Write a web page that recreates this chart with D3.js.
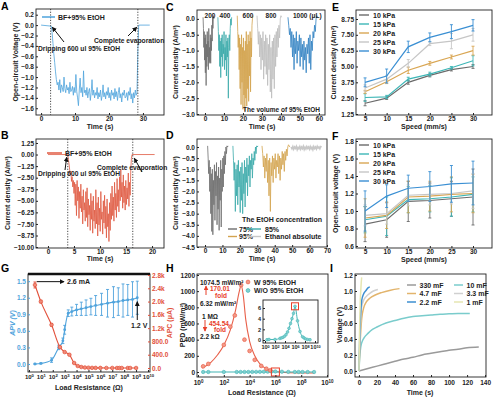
<!DOCTYPE html>
<meta charset="utf-8">
<script src="https://cdn.jsdelivr.net/npm/d3@7"></script>
<style>
body { margin: 0; background: #fff; }
text { font-family: "Liberation Sans", Arial, sans-serif; font-weight: bold; }
</style>
<body>
<script>

// ---------- data ----------

// A : open-circuit voltage, BF + 95% EtOH
var aStart = [0, 0], aEnd = [32, 0];
var aT0 = 3.0, aDt = 0.25;
var aVolt = [-0.02, -0.15, -0.35, -0.55, -0.72, -0.9, -1.05, -1.15, -1.1, -1.25, -1.05, -1.3,
  -1.15, -1.2, -1.28, -1.0, -1.22, -1.3, -1.15, -1.25, -1.2, -1.32, -1.1, -1.28,
  -1.25, -1.18, -1.35, -1.2, -1.3, -0.95, -1.28, -1.4, -1.55, -1.25, -1.02, -1.3,
  -1.2, -1.38, -0.88, -1.3, -1.25, -1.35, -1.2, -1.4, -1.28, -1.22, -1.45, -1.3,
  -1.05, -1.35, -1.25, -1.4, -1.3, -1.35, -1.2, -1.42, -1.3, -1.38, -1.25, -1.45,
  -1.35, -1.15, -1.38, -1.3, -1.42, -1.28, -1.35, -1.2, -1.4, -1.3, -1.45, -1.25,
  -1.35, -1.3, -1.42, -1.22, -1.38, -1.28, -1.45, -1.3, -1.2, -1.4, -1.32, -1.48,
  -1.3, -1.35, -1.25, -1.4, -1.38, -1.3, -1.45, -1.28, -1.35, -1.2, -1.42, -1.32,
  -1.5, -1.3, -1.4, -1.25, -1.35, -1.3, -0.5, 0];
var aMarks = [2.8, 28.5];

// B : current density, BF + 95% EtOH
var bStart = [0, 0], bEnd = [20.5, 0];
var bT0 = 3.8, bDt = 0.12;
var bCur = [0, -0.5, -1.0, -1.6, -2.2, -1.8, -2.9, -2.4, -3.5, -2.8,
  -4.2, -3.0, -5.5, -3.2, -6.6, -2.8, -5.0, -3.5, -6.9, -4.0,
  -5.8, -3.2, -6.2, -4.5, -7.5, -3.8, -6.0, -5.2, -7.2, -4.0,
  -6.8, -3.6, -7.8, -4.8, -6.5, -5.5, -8.2, -4.2, -7.0, -5.0,
  -8.5, -4.5, -7.2, -6.0, -8.0, -3.8, -7.5, -5.2, -8.8, -4.6,
  -7.6, -5.8, -8.3, -4.0, -7.0, -6.2, -8.6, -5.0, -7.4, -4.4,
  -8.0, -5.6, -9.0, -4.8, -7.8, -6.4, -9.4, -5.2, -8.2, -4.2,
  -7.0, -3.4, -6.6, -4.6, -7.2, -3.0, -6.0, -4.2, -6.8, -2.6,
  -5.6, -3.8, -6.2, -2.4, -5.0, -1.6, -4.6, -3.0, -5.8, -2.2,
  -5.2, -3.4, -6.0, -2.8, -5.4, -3.6, -4.8, -2.0, -5.6, -3.0,
  -4.4, -1.5, -0.4, 0];
var bMarks = [3.8, 16.3];

// C : volume of 95% EtOH
var cNames = ["200", "400", "600", "800", "1000 (\u03bcL)"];
var cColors = ["#6e6e6e", "#3aa9a9", "#d3a34e", "#bdbdbd", "#2f80c2"];
var cT0 = [-1.0, 6.8, 17.0, 27.4, 43.7];
var cDt = [0.2, 0.25, 0.25, 0.35, 0.4];
var c200 = [0.05, -0.3, -0.9, -0.4, -1.3, -0.6, -1.7, -0.5, -2.1, -0.8, -1.5, -0.4, -1.2, -0.7, -1.6,
  -0.3, -1.4, -0.9, -1.35, -0.5, -1.4, -0.6, -1.0, -0.2, -0.7, 0.05, -0.3, 0.1, 0.0, 0.05];
var c400 = [0.05, -0.4, -1.0, -0.5, -1.5, -0.7, -1.85, -0.6, -1.2, -0.5, -1.5, -0.8, -1.1, -0.4, -1.6,
  -0.9, -1.3, -0.5, -1.8, -0.7, -1.2, -0.6, -2.5, -0.9, -0.5, -1.0, -0.3, 0.0, -0.2, 0.05];
var c600 = [0.1, -0.4, -0.9, -0.5, -1.6, -0.6, -2.2, -0.8, -2.7, -0.5, -2.0, -0.9, -2.85, -0.6, -2.4,
  -1.0, -2.9, -0.7, -2.5, -0.4, -2.75, -0.8, -2.2, -0.5, -2.6, -0.7, -1.8, -0.4, -2.3, -0.6,
  -1.2, -0.2, 0.0, 0.1];
var c800 = [0.1, -0.3, -0.8, -0.4, -1.2, -0.5, -1.6, -0.6, -1.3, -0.4, -1.9, -0.7, -1.5, -0.5, -1.75,
  -0.6, -2.1, -0.8, -1.6, -0.5, -2.3, -0.9, -2.5, -0.7, -1.9, -0.6, -2.2, -0.5, -1.5, -0.4,
  -1.2, -0.3, -0.9, -0.2, -0.6, 0.0, 0.1, 0.05];
var c1000 = [0.05, -0.2, -0.5, -0.3, -0.9, -0.4, -1.2, -0.5, -1.6, -0.6, -1.1, -0.4, -1.4, -0.7, -1.0,
  -0.5, -1.5, -0.6, -1.2, -0.8, -1.6, -0.7, -1.3, -0.9, -1.7, -0.8, -1.1, -0.6, -1.4, -0.5,
  -1.6, -0.7, -1.0, -0.4, -0.6, -0.2, -0.4, 0.0, 0.1, 0.05];

// D : EtOH concentration
var dNames = ["75%", "85%", "95%", "Ethanol absolute"];
var dColors = ["#6e6e6e", "#3aa9a9", "#d3a34e", "#c8c8c8"];
var dT0 = [1.5, 16.0, 32.7, 49.4];
var dDt = [0.3, 0.35, 0.4, 0.5];
var d75 = [0.05, -0.5, -1.2, -0.6, -2.0, -0.9, -3.0, -1.2, -3.8, -1.0, -3.95, -1.5, -2.6, -0.8, -3.3,
  -1.1, -2.2, -0.7, -3.5, -1.3, -2.8, -0.9, -3.75, -1.4, -2.4, -0.6, -3.6, -1.0, -2.0, -0.5,
  -1.8, -0.4, -1.2, -0.2, -0.8, 0.0, -0.3, 0.05, 0.0, 0.05];
var d85 = [0.05, -0.6, -1.5, -0.7, -2.9, -1.0, -2.2, -0.8, -2.6, -0.6, -1.8, -1.1, -2.95, -0.9, -2.4,
  -0.7, -3.0, -1.2, -2.1, -0.6, -2.7, -0.9, -1.6, -0.5, -2.2, -0.8, -1.3, -0.4, -1.8, -0.6,
  -1.0, -0.3, -1.4, -0.5, -0.8, -0.2, -0.6, 0.0, -0.3, 0.05, 0.0, 0.05];
var d95 = [0.05, -0.3, -0.9, -0.4, -1.4, -0.5, -1.1, -0.3, -1.6, -0.6, -2.2, -0.5, -2.9, -0.7, -1.3,
  -0.4, -1.6, -0.5, -1.0, -0.3, -1.4, -0.6, -0.9, -0.3, -1.2, -0.4, -1.5, -0.5, -1.0, -0.2,
  -0.8, -0.3, -1.1, -0.2, -0.6, -0.1, -0.4, 0.0, 0.1, 0.05, 0.0];
var dAbs = [0.0, -0.08, 0.02, -0.1, 0.0, -0.06, 0.03, -0.12, -0.02, -0.08, 0.02, -0.1, 0.0, -0.07, 0.03,
  -0.11, -0.01, -0.09, 0.02, -0.06, 0.0, -0.1, 0.02, -0.08, -0.01, -0.12, 0.02, -0.07, 0.0, -0.09,
  0.03, -0.05, 0.0, -0.08, 0.02, 0.0];

// E, F : pressure series vs speed
var speeds = [5, 10, 15, 20, 25, 30];
var pressures = ["10 kPa", "15 kPa", "20 kPa", "25 kPa", "30 kPa"];
var pColors = ["#6b6b6b", "#3db6b6", "#d9a653", "#c6c6c6", "#3a8fd3"];
var eMean = [[2.1, 2.5, 3.75, 4.3, 4.75, 5.0],
             [2.55, 2.6, 4.0, 4.4, 4.9, 5.45],
             [3.0, 3.8, 4.7, 5.25, 5.75, 6.25],
             [3.3, 4.0, 5.25, 6.8, 7.0, 7.5],
             [3.75, 4.25, 6.55, 7.3, 7.75, 8.25]];
var eErr = [[0.2, 0.1, 0.15, 0.12, 0.1, 0.15],
            [0.3, 0.12, 0.15, 0.15, 0.1, 0.4],
            [0.12, 0.15, 0.25, 0.15, 0.15, 0.35],
            [0.25, 0.3, 0.3, 0.15, 0.6, 0.5],
            [0.35, 0.55, 0.45, 0.35, 0.55, 0.45]];
var fMean = [[0.85, 0.9, 1.11, 1.12, 1.14, 1.16],
             [0.9, 0.94, 1.13, 1.14, 1.16, 1.19],
             [0.92, 0.95, 1.16, 1.17, 1.19, 1.2],
             [0.95, 0.97, 1.18, 1.19, 1.2, 1.23],
             [1.0, 1.17, 1.26, 1.28, 1.31, 1.32]];
var fErr = [[0.2, 0.2, 0.23, 0.2, 0.2, 0.32],
            [0.15, 0.22, 0.15, 0.15, 0.22, 0.2],
            [0.22, 0.15, 0.18, 0.17, 0.2, 0.22],
            [0.12, 0.12, 0.12, 0.12, 0.12, 0.2],
            [0.23, 0.13, 0.15, 0.17, 0.21, 0.25]];

// G : APV / APC vs load resistance
var gvR = [3.2, 10, 79, 320, 710, 1000, 2000, 4000, 1e4, 2.5e4, 6.3e4, 1.6e5, 4e5, 1.26e6, 4e6,
  1.26e7, 3.2e7, 8e7, 2e8, 5e8, 1.26e9];
var gvV = [0.0, 0.01, 0.07, 0.3, 0.42, 0.62, 0.92, 0.95, 0.98, 1.0, 1.02, 1.04, 1.06, 1.08, 1.1,
  1.12, 1.13, 1.15, 1.16, 1.17, 1.2];
var gvErr = [0.01, 0.01, 0.04, 0.04, 0.05, 0.08, 0.06, 0.08, 0.1, 0.12, 0.14, 0.15, 0.18, 0.2, 0.25,
  0.28, 0.25, 0.3, 0.28, 0.32, 0.3];
var gcR = [3.2, 10, 79, 400, 1000, 2500, 6300, 1.26e4, 2.5e4, 5e4, 1e5, 2e5, 4e5, 1e6, 3.2e6,
  1e7, 2.5e7, 4e7, 6.3e7, 2e8, 3.2e8, 1e9];
var gcI = [2500, 2000, 1300, 630, 480, 400, 150, 60, 30, 15, 10, 5, 4, 3, 2, 2, 1, 1, 1, 1, 1, 1];
var gcErr = [90, 40, 40, 20, 15, 10, 10, 5, 5, 5, 5, 5, 5, 5, 5, 5, 5, 5, 5, 5, 5, 5];

// H : peak power density
var hwR = [2.5, 6.3, 100, 320, 710, 2200, 4000, 1e4, 2.5e4, 8e4, 2e5, 4e5];
var hwP = [70, 100, 335, 560, 700, 1074.5, 400, 260, 150, 75, 40, 20];
var hFitR = [2, 10, 32, 100, 320, 800, 1600, 2200, 3200, 5000, 1e4, 2.5e4, 6.3e4, 2e5, 1e6, 1e7, 1e8, 1e9];
var hFitP = [50, 120, 210, 330, 520, 760, 1000, 1075, 950, 650, 380, 200, 100, 40, 5, -10, -12, -12];
var hoR = [2.5, 6.3, 100, 1000, 2000, 4000, 8000, 1.6e4, 3.2e4, 6.3e4, 1.26e5, 2.5e5, 5e5, 1e6, 3.2e6,
  1e7, 3.2e7, 6.3e7, 1.26e8, 3.2e8, 1e9];
var hoP = [0.05, 0.1, 0.1, 0.3, 0.4, 0.5, 0.7, 1.0, 1.5, 2.2, 3.1, 4.0, 5.0, 6.32, 3.6,
  1.6, 0.6, 0.4, 0.2, 0.1, 0.05];
var hPeakR = 1e6;

// I : charging curves
var iNames = ["330 mF", "4.7 mF", "2.2 mF", "10 mF", "3.3 mF", "1 mF"];
var iColors = ["#9a9a9a", "#e2b46c", "#3d8fd1", "#7acccc", "#d0d0d0", "#e6e6b2"];
var iT330 = [0, 10, 20, 30, 40, 50, 60, 70, 80, 90, 100, 110, 120, 133];
var iV330 = [0, 0.03, 0.06, 0.09, 0.12, 0.15, 0.17, 0.2, 0.22, 0.24, 0.26, 0.27, 0.29, 0.3];
var iT47 = [0, 1, 2, 3, 5, 8, 12, 18, 25, 35, 45];
var iV47 = [0, 0.3, 0.5, 0.65, 0.78, 0.86, 0.91, 0.95, 0.98, 1.01, 1.03];
var iT22 = [0, 1, 2, 3, 5, 8, 10, 12];
var iV22 = [0, 0.5, 0.75, 0.88, 0.96, 1.01, 1.04, 1.05];
var iT10 = [0, 1, 2, 4, 6, 10, 15, 20, 30, 40, 50, 60, 70, 80, 90, 100, 110, 123];
var iV10 = [0, 0.2, 0.3, 0.38, 0.42, 0.47, 0.52, 0.55, 0.6, 0.63, 0.66, 0.68, 0.69, 0.7, 0.71, 0.715, 0.72, 0.72];
var iT33 = [0, 1, 2, 3, 5, 8, 12, 16, 21];
var iV33 = [0, 0.4, 0.65, 0.8, 0.88, 0.93, 0.97, 1.0, 1.02];
var iT1 = [0, 0.5, 1, 1.5, 2, 2.5, 3];
var iV1 = [0, 0.4, 0.7, 0.9, 1.0, 1.1, 1.17];

// ---------- drawing ----------

var INK = "#222";
var svg = d3.select("body").append("svg")
    .attr("width", 500)
    .attr("height", 398);

var defs = svg.append("defs");
function arrowHead(id, color) {
  defs.append("marker").attr("id", id)
      .attr("viewBox", "0 0 8 8").attr("refX", 7).attr("refY", 4)
      .attr("markerWidth", 5).attr("markerHeight", 5).attr("orient", "auto")
    .append("path").attr("d", "M0,0L8,4L0,8z").attr("fill", color);
}
arrowHead("arrK", "#111");
arrowHead("arrR", "#e8402a");

function frame(x0, y0, x1, y1) {
  svg.append("rect").attr("x", x0).attr("y", y0)
    .attr("width", x1 - x0).attr("height", y1 - y0)
    .attr("fill", "none").attr("stroke", INK).attr("stroke-width", 0.9);
}

function styleAxis(g, color, size) {
  g.select(".domain").remove();
  g.selectAll(".tick line").attr("stroke", color || INK);
  g.selectAll(".tick text").attr("font-size", size || 6.5).attr("fill", color || INK);
  return g;
}
// ticks point inward, labels sit right against the frame
function bottomAxis(scale, y, ticks, fmt, size, pad) {
  var g = svg.append("g").attr("transform", "translate(0," + y + ")")
    .call(d3.axisBottom(scale).tickValues(ticks).tickFormat(fmt || null).tickSize(-2).tickPadding(pad || 1.5));
  return styleAxis(g, INK, size);
}
function leftAxis(scale, x, ticks, fmt, color, size) {
  var g = svg.append("g").attr("transform", "translate(" + x + ",0)")
    .call(d3.axisLeft(scale).tickValues(ticks).tickFormat(fmt || null).tickSize(-2).tickPadding(2));
  return styleAxis(g, color, size);
}
function rightAxis(scale, x, ticks, fmt, color) {
  var g = svg.append("g").attr("transform", "translate(" + x + ",0)")
    .call(d3.axisRight(scale).tickValues(ticks).tickFormat(fmt || null).tickSize(-2).tickPadding(2));
  return styleAxis(g, color);
}
// 10^n labels
function powTicks(g, small) {
  g.selectAll(".tick text").each(function(d) {
    var t = d3.select(this).text(null);
    t.append("tspan").text("10");
    t.append("tspan").attr("dy", "-0.45em").attr("font-size", small).text(Math.round(Math.log10(d)));
  });
}

function text(x, y, str, size, color, anchor) {
  return svg.append("text").attr("x", x).attr("y", y)
    .attr("font-size", size || 7).attr("fill", color || INK)
    .attr("text-anchor", anchor || "start").text(str);
}
function ytitle(x, y, str, color) {
  return svg.append("text").attr("transform", "translate(" + x + "," + y + ") rotate(-90)")
    .attr("text-anchor", "middle").attr("font-size", 7).attr("fill", color || INK).text(str);
}
function xtitle(x, y, str) {
  return text(x, y, str, 7, INK, "middle");
}
function letter(x, y, s) { return text(x, y, s, 10.5, "#000"); }

function series(t0, dt, vals) {
  return vals.map(function(v, i) { return [t0 + i * dt, v]; });
}
function errBars(g, xs, ys, es, x, y, color, cap) {
  xs.forEach(function(xv, i) {
    var px = x(xv), lo = y(ys[i] - es[i]), hi = y(ys[i] + es[i]);
    g.append("line").attr("x1", px).attr("x2", px).attr("y1", lo).attr("y2", hi)
      .attr("stroke", color).attr("stroke-width", 0.9);
    [lo, hi].forEach(function(py) {
      g.append("line").attr("x1", px - cap).attr("x2", px + cap).attr("y1", py).attr("y2", py)
        .attr("stroke", color).attr("stroke-width", 0.9);
    });
  });
}

// ===== A =====
var xA = d3.scaleLinear().domain([-1.5, 36.2]).range([36, 164]);
var yA = d3.scaleLinear().domain([-1.73, 0.31]).range([115, 9]);
var lineA = d3.line().x(function(d) { return xA(d[0]); }).y(function(d) { return yA(d[1]); });
var aPts = [aStart].concat(series(aT0, aDt, aVolt), [aEnd]);
svg.append("path").datum(aPts).attr("d", lineA).attr("fill", "none")
  .attr("stroke", "#4ea3dc").attr("stroke-width", 0.8);
aMarks.forEach(function(t) {
  svg.append("line").attr("x1", xA(t)).attr("x2", xA(t)).attr("y1", 9).attr("y2", 115)
    .attr("stroke", "#333").attr("stroke-width", 0.9).attr("stroke-dasharray", "1.2,1.5");
});
frame(36, 9, 164, 115);
bottomAxis(xA, 115, [0, 10, 20, 30]);
leftAxis(yA, 36, [0.2, 0, -0.2, -0.4, -0.6, -0.8, -1.0, -1.2, -1.4, -1.6], d3.format(".1f"));
svg.append("line").attr("x1", 42).attr("x2", 55).attr("y1", 17).attr("y2", 17)
  .attr("stroke", "#4ea3dc").attr("stroke-width", 1.5);
text(58, 19.5, "BF+95% EtOH", 7);
text(38, 50.5, "Dripping 600 ul 95% EtOH", 6.7);
text(94, 42.5, "Complete evaporation", 6.7);
svg.append("line").attr("x1", 64).attr("y1", 42).attr("x2", xA(3.3)).attr("y2", yA(-0.04))
  .attr("stroke", "#111").attr("stroke-width", 1).attr("marker-end", "url(#arrK)");
svg.append("line").attr("x1", 128).attr("y1", 36).attr("x2", xA(28.2)).attr("y2", yA(-0.04))
  .attr("stroke", "#111").attr("stroke-width", 1).attr("marker-end", "url(#arrK)");
ytitle(17.5, 62, "Open-circuit Voltage (V)");
xtitle(100, 128.5, "Time (s)");
letter(1, 10, "A");

// ===== B =====
var xB = d3.scaleLinear().domain([-2.3, 22.3]).range([36, 164]);
var yB = d3.scaleLinear().domain([-10.1, 1.68]).range([248, 139]);
var lineB = d3.line().x(function(d) { return xB(d[0]); }).y(function(d) { return yB(d[1]); });
var bPts = [bStart].concat(series(bT0, bDt, bCur), [bEnd]);
svg.append("path").datum(bPts).attr("d", lineB).attr("fill", "none")
  .attr("stroke", "#e05a42").attr("stroke-width", 0.8);
bMarks.forEach(function(t) {
  svg.append("line").attr("x1", xB(t)).attr("x2", xB(t)).attr("y1", 139).attr("y2", 248)
    .attr("stroke", "#333").attr("stroke-width", 0.9).attr("stroke-dasharray", "1.2,1.5");
});
frame(36, 139, 164, 248);
bottomAxis(xB, 248, [0, 5, 10, 15, 20]);
leftAxis(yB, 36, [1.25, 0, -1.25, -2.5, -3.75, -5, -6.25, -7.5, -8.75, -10], d3.format(".2f"));
svg.append("line").attr("x1", 47).attr("x2", 62).attr("y1", 153).attr("y2", 153)
  .attr("stroke", "#e05a42").attr("stroke-width", 1.5);
text(65, 155.5, "BF+95% EtOH", 7);
text(38, 175.5, "Dripping 600 ul 95% EtOH", 6.7);
text(97, 169.5, "Complete evaporation", 6.7);
svg.append("line").attr("x1", 65).attr("y1", 170).attr("x2", xB(3.6)).attr("y2", yB(-0.3))
  .attr("stroke", "#111").attr("stroke-width", 1).attr("marker-end", "url(#arrK)");
svg.append("line").attr("x1", 142).attr("y1", 172).attr("x2", xB(16.6)).attr("y2", yB(-0.4))
  .attr("stroke", "#111").attr("stroke-width", 1).attr("marker-end", "url(#arrK)");
ytitle(10, 193, "Current density (A/m\u00b2)");
xtitle(100, 261, "Time (s)");
letter(1, 139, "B");

// ===== C =====
var xC = d3.scaleLinear().domain([-4.2, 63.2]).range([197, 325]);
var yC = d3.scaleLinear().domain([-3.03, 0.28]).range([115, 10]);
var lineC = d3.line().x(function(d) { return xC(d[0]); }).y(function(d) { return yC(d[1]); });
[c200, c400, c600, c800, c1000].forEach(function(vals, i) {
  svg.append("path").datum(series(cT0[i], cDt[i], vals)).attr("d", lineC).attr("fill", "none")
    .attr("stroke", cColors[i]).attr("stroke-width", 0.8);
});
frame(197, 10, 325, 115);
bottomAxis(xC, 115, [0, 10, 20, 30, 40, 50, 60]);
leftAxis(yC, 197, [0, -0.5, -1, -1.5, -2, -2.5, -3], d3.format(".1f"));
[210, 225, 248, 271].forEach(function(px, i) { text(px, 17.5, cNames[i], 6.5, INK, "middle"); });
text(293, 17.5, cNames[4], 6.5);
text(320, 112, "The volume of 95% EtOH", 6.5, INK, "end");
ytitle(178, 62, "Current density (A/m\u00b2)");
xtitle(262, 129, "Time (s)");
letter(166, 11, "C");

// ===== D =====
var xD = d3.scaleLinear().domain([-4.6, 70]).range([197, 327]);
var yD = d3.scaleLinear().domain([-4.5, 0.36]).range([247, 139]);
var lineD = d3.line().x(function(d) { return xD(d[0]); }).y(function(d) { return yD(d[1]); });
[d75, d85, d95, dAbs].forEach(function(vals, i) {
  svg.append("path").datum(series(dT0[i], dDt[i], vals)).attr("d", lineD).attr("fill", "none")
    .attr("stroke", dColors[i]).attr("stroke-width", i == 3 ? 1.6 : 0.8);
});
frame(197, 139, 327, 247);
bottomAxis(xD, 247, [0, 10, 20, 30, 40, 50, 60, 70]);
leftAxis(yD, 197, [0, -0.5, -1, -1.5, -2, -2.5, -3, -3.5, -4, -4.5], d3.format(".1f"));
text(322, 221.5, "The EtOH concentration", 7, INK, "end");
[[228, 229], [246, 229], [228, 236.5], [246, 236.5]].forEach(function(p, i) {
  svg.append("line").attr("x1", p[0]).attr("x2", p[0] + (i % 2 ? 15 : 9)).attr("y1", p[1]).attr("y2", p[1])
    .attr("stroke", dColors[i]).attr("stroke-width", 1.4);
  text(p[0] + (i % 2 ? 19 : 11), p[1] + 2.5, dNames[i], 7);
});
ytitle(178, 193, "Current density (A/m\u00b2)");
xtitle(262, 260.5, "Time (s)");
letter(166, 139, "D");

// ===== E / F =====
function speedPanel(top, bottom, yDom, ticks, fmt, means, errs, legendY, title, tY, lab) {
  var x = d3.scaleLinear().domain([2.9, 34.4]).range([356, 492]);
  var y = d3.scaleLinear().domain(yDom).range([bottom, top]);
  var line = d3.line().x(function(d, i) { return x(speeds[i]); }).y(function(d) { return y(d); });
  var g = svg.append("g");
  means.forEach(function(m, k) {
    errBars(g, speeds, m, errs[k], x, y, pColors[k], 1.5);
    g.append("path").datum(m).attr("d", line).attr("fill", "none")
      .attr("stroke", pColors[k]).attr("stroke-width", 1.2);
  });
  frame(356, top, 492, bottom);
  bottomAxis(x, bottom, speeds);
  leftAxis(y, 356, ticks, fmt);
  pressures.forEach(function(p, k) {
    svg.append("line").attr("x1", 359).attr("x2", 369).attr("y1", legendY + k * 9).attr("y2", legendY + k * 9)
      .attr("stroke", pColors[k]).attr("stroke-width", 1.4);
    text(373, legendY + k * 9 + 2.5, p, 7);
  });
  ytitle(tY, (top + bottom) / 2, title);
  xtitle(424, bottom + 13.5, "Speed (mm/s)");
  letter(332, top + 1, lab);
}
speedPanel(10, 115, [1.17, 9.46], [1.25, 2.5, 3.75, 5, 6.25, 7.5, 8.75], d3.format(".2f"),
  eMean, eErr, 15, "Current density (A/m\u00b2)", 336, "E");
speedPanel(139, 248, [0.577, 1.823], [0.6, 0.8, 1.0, 1.2, 1.4, 1.6, 1.8], d3.format(".1f"),
  fMean, fErr, 145, "Open-circuit voltage (V)", 338, "F");

// ===== G =====
var gBlue = "#4fa3dc", gRed = "#e2503a";
var xG = d3.scaleLog().domain([0.832, 1.479e10]).range([28, 150]);
var yGv = d3.scaleLinear().domain([-0.145, 1.63]).range([372, 274]);
var yGc = d3.scaleLinear().domain([-120, 2830]).range([372, 274]);
var gG = svg.append("g");
errBars(gG, gvR, gvV, gvErr, xG, yGv, gBlue, 1.5);
gG.append("path").datum(gvR).attr("fill", "none").attr("stroke", gBlue).attr("stroke-width", 1.1)
  .attr("d", d3.line().curve(d3.curveMonotoneX)
    .x(function(d) { return xG(d); }).y(function(d, i) { return yGv(gvV[i]); }));
gG.selectAll(".gv").data(gvR).enter().append("circle")
  .attr("cx", function(d) { return xG(d); }).attr("cy", function(d, i) { return yGv(gvV[i]); })
  .attr("r", 1.4).attr("fill", gBlue);
errBars(gG, gcR, gcI, gcErr, xG, yGc, gRed, 1.5);
gG.append("path").datum(gcR).attr("fill", "none").attr("stroke", gRed).attr("stroke-width", 1.1)
  .attr("d", d3.line().curve(d3.curveMonotoneX)
    .x(function(d) { return xG(d); }).y(function(d, i) { return yGc(gcI[i]); }));
gG.selectAll(".gc").data(gcR).enter().append("circle")
  .attr("cx", function(d) { return xG(d); }).attr("cy", function(d, i) { return yGc(gcI[i]); })
  .attr("r", 1.8).attr("fill", "#f08a78").attr("stroke", gRed).attr("stroke-width", 0.7);
frame(28, 274, 150, 372);
svg.append("line").attr("x1", 28).attr("x2", 150).attr("y1", 274).attr("y2", 274)
  .attr("stroke", "#111").attr("stroke-width", 2.6);
powTicks(bottomAxis(xG, 372, [1, 10, 100, 1e3, 1e4, 1e5, 1e6, 1e7, 1e8, 1e9, 1e10], null, 6, 3), "4.2px");
leftAxis(yGv, 28, [0, 0.3, 0.6, 0.9, 1.2, 1.5], d3.format(".1f"), gBlue);
rightAxis(yGc, 150, [0, 400, 800, 1200, 1600, 2000, 2400, 2800],
  function(d) { return d >= 1000 ? (d / 1000).toFixed(1) + "k" : d.toFixed(1); }, gRed);
ytitle(15, 323, "APV (V)", gBlue).attr("font-style", "italic");
ytitle(172, 323, "APC (\u03bcA)", gRed);
svg.append("line").attr("x1", xG(4.5)).attr("y1", yGc(2600)).attr("x2", 64).attr("y2", yGc(2600))
  .attr("stroke", "#111").attr("stroke-width", 1).attr("marker-end", "url(#arrK)");
text(67, yGc(2600) + 2.5, "2.6 mA", 7);
svg.append("line").attr("x1", xG(1.26e9)).attr("y1", 320).attr("x2", xG(1.26e9)).attr("y2", yGv(1.2) + 4)
  .attr("stroke", "#111").attr("stroke-width", 1).attr("marker-end", "url(#arrK)");
text(131, 327.5, "1.2 V", 7);
xtitle(89, 389.5, "Load Resistance (\u03a9)");
letter(1, 272, "G");

// ===== H =====
var hRed = "#e8604a", hTeal = "#45b5b5";
var xH = d3.scaleLog().domain([0.832, 1.2e10]).range([197, 328]);
var yH = d3.scaleLinear().domain([-62, 1212]).range([377, 274]);
var gH = svg.append("g");
gH.append("path").datum(hFitR).attr("fill", "none").attr("stroke", hRed).attr("stroke-width", 1.1)
  .attr("d", d3.line().curve(d3.curveMonotoneX)
    .x(function(d) { return xH(d); }).y(function(d, i) { return yH(hFitP[i]); }));
gH.append("path").datum(hoR).attr("fill", "none").attr("stroke", hTeal).attr("stroke-width", 1.1)
  .attr("d", d3.line().x(function(d) { return xH(d); }).y(function(d, i) { return yH(0); }));
gH.selectAll(".ho").data(hoR).enter().append("circle")
  .attr("cx", function(d) { return xH(d); }).attr("cy", function(d, i) { return yH(hoP[i]); })
  .attr("r", 1.7).attr("fill", "#7fd0d0").attr("stroke", hTeal).attr("stroke-width", 0.6);
gH.selectAll(".hw").data(hwR).enter().append("circle")
  .attr("cx", function(d) { return xH(d); }).attr("cy", function(d, i) { return yH(hwP[i]); })
  .attr("r", 1.9).attr("fill", "#f49a88").attr("stroke", hRed).attr("stroke-width", 0.7);
gH.append("rect").attr("x", xH(hPeakR) - 4).attr("y", yH(0) - 4).attr("width", 8).attr("height", 8)
  .attr("fill", "none").attr("stroke", "#e8402a").attr("stroke-width", 1);
frame(197, 274, 328, 377);
powTicks(bottomAxis(xH, 377, [1, 100, 1e4, 1e6, 1e8, 1e10], null, 6.5, 3), "4.5px");
leftAxis(yH, 197, [0, 200, 400, 600, 800, 1000, 1200], d3.format("d"));
ytitle(185, 325, "PPD (mW/m\u00b2)");
xtitle(262, 395, "Load Resistance (\u03a9)");
letter(166, 272, "H");
// legend
svg.append("circle").attr("cx", 248).attr("cy", 282).attr("r", 1.9)
  .attr("fill", "#f49a88").attr("stroke", hRed).attr("stroke-width", 0.7);
text(254, 284.5, "W 95% EtOH", 7);
svg.append("circle").attr("cx", 248).attr("cy", 290.5).attr("r", 1.9)
  .attr("fill", "#7fd0d0").attr("stroke", hTeal).attr("stroke-width", 0.7);
text(254, 293, "W/O 95% EtOH", 7);
// fold notes
text(200, 284.5, "1074.5 mW/m\u00b2", 6.5);
svg.append("line").attr("x1", 206).attr("x2", 206).attr("y1", 295).attr("y2", 286)
  .attr("stroke", "#e8402a").attr("stroke-width", 1).attr("marker-end", "url(#arrR)");
text(210, 290.5, "170.01", 6.5, "#e8402a");
text(215, 297.5, "fold", 6.5, "#e8402a");
text(200, 305.5, "6.32 mW/m\u00b2", 6.5);
text(202, 318.5, "1 M\u03a9", 6.5);
svg.append("line").attr("x1", 205).attr("x2", 205).attr("y1", 320).attr("y2", 331)
  .attr("stroke", "#e8402a").attr("stroke-width", 1).attr("marker-end", "url(#arrR)");
text(209, 325.5, "454.54", 6.5, "#e8402a");
text(214, 332, "fold", 6.5, "#e8402a");
text(200, 338.5, "2.2 k\u03a9", 6.5);

// inset
var xIn = d3.scaleLog().domain([0.398, 3.98e10]).range([263, 318]);
var yIn = d3.scaleLinear().domain([-0.56, 7.5]).range([343, 300]);
svg.append("rect").attr("x", 263).attr("y", 300).attr("width", 55).attr("height", 43).attr("fill", "#fff");
svg.append("path").datum(hoR).attr("fill", "none").attr("stroke", hTeal).attr("stroke-width", 1)
  .attr("d", d3.line().curve(d3.curveMonotoneX)
    .x(function(d) { return xIn(d); }).y(function(d, i) { return yIn(hoP[i]); }));
svg.selectAll(".hin").data(hoR).enter().append("circle")
  .attr("cx", function(d) { return xIn(d); }).attr("cy", function(d, i) { return yIn(hoP[i]); })
  .attr("r", 1.4).attr("fill", "#7fd0d0").attr("stroke", hTeal).attr("stroke-width", 0.5);
svg.append("rect").attr("x", xIn(hPeakR) - 3.5).attr("y", yIn(6.32) - 3.5).attr("width", 7).attr("height", 7)
  .attr("fill", "none").attr("stroke", "#e8402a").attr("stroke-width", 1);
frame(263, 300, 318, 343);
powTicks(bottomAxis(xIn, 343, [1, 100, 1e4, 1e6, 1e8, 1e10], null, 5.5, 2.5), "3.8px");
leftAxis(yIn, 263, [0, 2, 4, 6], d3.format("d"), INK, 5.5);

// ===== I =====
var xI = d3.scaleLinear().domain([-4.4, 141]).range([355, 486]);
var yI = d3.scaleLinear().domain([-0.076, 1.213]).range([377, 274]);
var lineI = d3.line().curve(d3.curveMonotoneX)
  .x(function(d) { return xI(d[0]); }).y(function(d) { return yI(d[1]); });
var iSets = [[iT330, iV330], [iT47, iV47], [iT22, iV22], [iT10, iV10], [iT33, iV33], [iT1, iV1]];
[0, 3, 1, 4, 2, 5].forEach(function(k) {
  var pts = iSets[k][0].map(function(t, j) { return [t, iSets[k][1][j]]; });
  svg.append("path").datum(pts).attr("d", lineI).attr("fill", "none")
    .attr("stroke", iColors[k]).attr("stroke-width", 1.5);
});
frame(355, 274, 486, 377);
bottomAxis(xI, 377, [0, 20, 40, 60, 80, 100, 120, 140], null, 6.5, 3);
leftAxis(yI, 355, [0, 0.2, 0.4, 0.6, 0.8, 1.0, 1.2], d3.format(".1f"));
iNames.forEach(function(n, k) {
  var col = k < 3 ? 0 : 1, row = k % 3;
  var lx = col ? 454 : 407, ly = [285, 293.5, 302][row];
  svg.append("line").attr("x1", lx).attr("x2", lx + 9).attr("y1", ly).attr("y2", ly)
    .attr("stroke", iColors[k]).attr("stroke-width", 1.5);
  text(lx + 12.5, ly + 2.5, n, 7);
});
ytitle(342, 325, "Voltage (V)");
xtitle(420, 395, "Time (s)");
letter(330, 272, "I");

</script>
</body>
</html>
